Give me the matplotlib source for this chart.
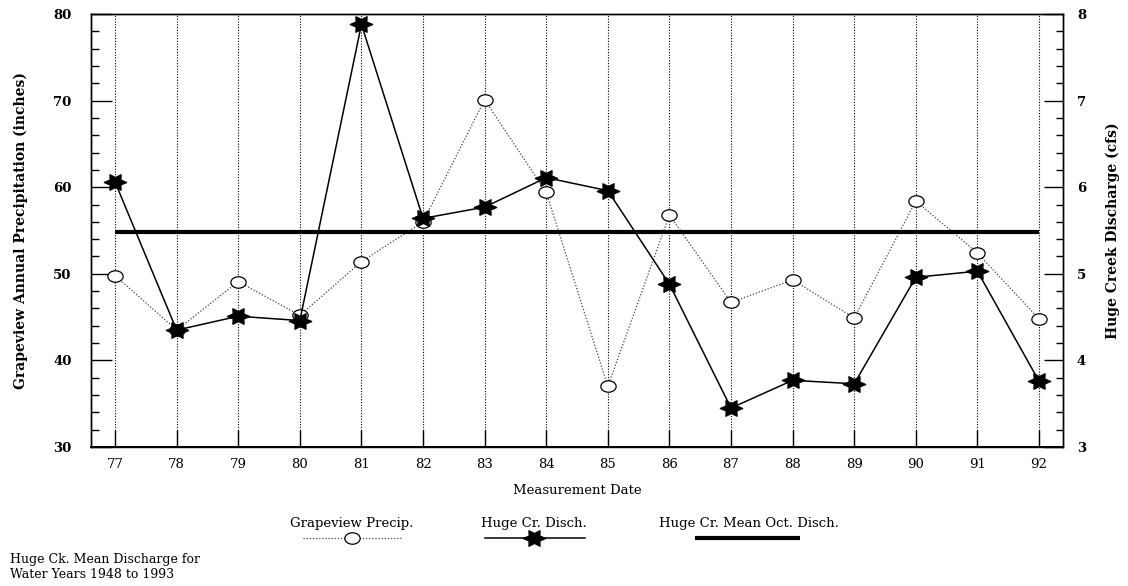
import numpy as np
import matplotlib.pyplot as plt
from matplotlib.lines import Line2D
from matplotlib.path import Path
from matplotlib.ticker import MultipleLocator

plt.rcParams['font.family'] = ['DejaVu Serif']

years = [77, 78, 79, 80, 81, 82, 83, 84, 85, 86, 87, 88, 89, 90, 91, 92]
precip = [49.8, 43.5, 49.1, 45.2, 51.4, 56.0, 70.1, 59.4, 37.0, 56.8,
          46.7, 49.3, 44.9, 58.4, 52.4, 44.8]
disch = [6.06, 4.35, 4.51, 4.46, 7.88, 5.64, 5.77, 6.11, 5.96, 4.88,
         3.45, 3.77, 3.73, 4.96, 5.03, 3.76]
mean_disch = 5.48

# slightly flattened open circle like the original
circ = Path.unit_circle()
oval = Path(circ.vertices * [1.0, 0.75], circ.codes)
# six-pointed star, points to the sides, a bit wider than tall
hexa = Path.unit_regular_star(6, 0.55)
star = Path(hexa.vertices[:, ::-1] * [1.0, 0.8], hexa.codes)

precip_style = dict(color='#444444', linestyle=(0, (1, 1.5)), linewidth=0.9,
                    marker=oval, markersize=11, markerfacecolor='white',
                    markeredgecolor='black', markeredgewidth=0.9)
disch_style = dict(color='black', linewidth=1.1, marker=star, markersize=16,
                   markerfacecolor='black', markeredgecolor='black')
mean_style = dict(color='black', linewidth=3, solid_capstyle='butt')

fig = plt.figure(figsize=(11.28, 5.86), dpi=100)
ax = fig.add_axes([0.0807, 0.2372, 0.8617, 0.7389])
ax2 = ax.twinx()

# vertical dotted grid at each year
for yr in years:
    ax.axvline(yr, color='black', linestyle=(0, (1, 1.5)), linewidth=0.8, zorder=0)

ax.plot(years, precip, zorder=3, **precip_style)
ax2.plot(years, disch, zorder=4, **disch_style)
ax2.plot([years[0], years[-1]], [mean_disch, mean_disch], zorder=2, **mean_style)

ax.set_xlim(76.61, 92.39)
ax.set_ylim(30, 80)
ax2.set_ylim(3, 8)
ax.set_xticks(years)
ax.set_yticks([30, 40, 50, 60, 70, 80])
ax.yaxis.set_minor_locator(MultipleLocator(2))
ax2.set_yticks([3, 4, 5, 6, 7, 8])
ax2.yaxis.set_minor_locator(MultipleLocator(0.2))

ax.tick_params(axis='x', direction='in', length=12, width=1, pad=8,
               labelsize=9.5, top=False)
ax.tick_params(axis='y', which='major', direction='in', length=15, width=1,
               pad=14, labelsize=9.5)
ax.tick_params(axis='y', which='minor', direction='in', length=6, width=1)
ax2.tick_params(axis='y', which='major', direction='in', length=14, width=1,
                pad=10, labelsize=9.5)
ax2.tick_params(axis='y', which='minor', direction='in', length=5, width=1)
for lab in ax.get_yticklabels() + ax2.get_yticklabels():
    lab.set_fontweight('bold')

for a in (ax, ax2):
    for s in a.spines.values():
        s.set_linewidth(1.0)
ax.spines['bottom'].set_linewidth(1.4)

ax.set_xlabel('Measurement Date', fontsize=9.5, labelpad=9)
ax.set_ylabel('Grapeview Annual Precipitation (inches)', fontsize=10,
              fontweight='bold', labelpad=18)
ax2.set_ylabel('Huge Creek Discharge (cfs)', fontsize=10, fontweight='bold',
               rotation=90, labelpad=14)

# legend drawn below the axes with labels above the handles
W, H = 1128.0, 586.0
entries = [
    ('Grapeview Precip.', 352, 303, 403, precip_style),
    ('Huge Cr. Disch.', 534, 485, 585, disch_style),
    ('Huge Cr. Mean Oct. Disch.', 749, 695, 800, mean_style),
]
for label, cx, x0, x1, style in entries:
    fig.text(cx / W, 1 - 523 / H, label, ha='center', va='center', fontsize=9.5)
    line_kw = {k: v for k, v in style.items() if not k.startswith('marker')}
    fig.add_artist(Line2D([x0 / W, x1 / W], [1 - 538 / H, 1 - 538 / H],
                          transform=fig.transFigure, **line_kw))
    if 'marker' in style:
        mk_kw = {k: v for k, v in style.items() if k.startswith('marker')}
        fig.add_artist(Line2D([cx / W], [1 - 538 / H], transform=fig.transFigure,
                              linestyle='none', **mk_kw))

fig.text(10 / W, 1 - 567 / H, 'Huge Ck. Mean Discharge for\nWater Years 1948 to 1993',
         ha='left', va='center', fontsize=9, linespacing=1.25)

fig.savefig('out.png', dpi=100)
